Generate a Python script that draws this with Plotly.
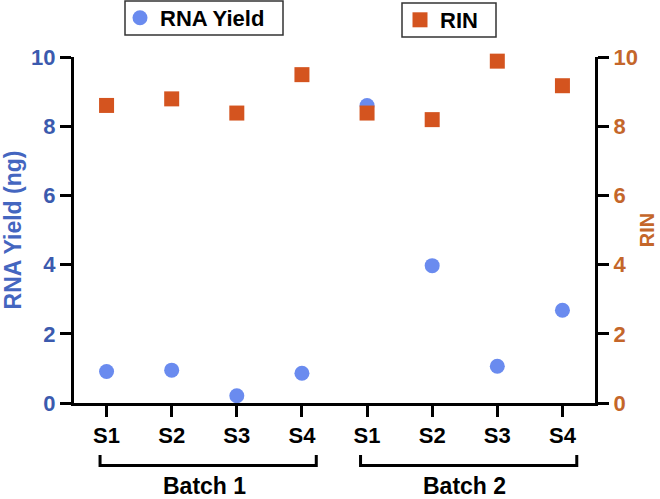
import plotly.graph_objects as go

samples = ["S1", "S2", "S3", "S4", "S1", "S2", "S3", "S4"]
batches = ["Batch 1", "Batch 2"]
rna_yield = [0.91, 0.95, 0.21, 0.86, 8.6, 3.97, 1.06, 2.68]
rin = [8.6, 8.79, 8.38, 9.49, 8.38, 8.19, 9.88, 9.17]

x_pos = list(range(len(samples)))
FONT = "Liberation Sans, Arial, sans-serif"
BLUE_TXT = "#3B5AAE"
BLUE_MK = "#6A8BEF"
ORANGE_TXT = "#C4662A"
ORANGE_MK = "#D4541F"

# plot-area geometry (pixels)
L, R, T, B = 74, 65, 57, 96
W, H = 660, 499
PW, PH = W - L - R, H - T - B


def px_x(px):
    return (px - L) / PW


def px_y(py):
    return (H - B - py) / PH


fig = go.Figure()
fig.add_trace(go.Scatter(
    x=x_pos, y=rna_yield, mode="markers", name="RNA Yield",
    marker=dict(symbol="circle", size=15, color=BLUE_MK, line=dict(width=0)),
    cliponaxis=False, legend="legend", yaxis="y"))
fig.add_trace(go.Scatter(
    x=x_pos, y=rin, mode="markers", name="RIN",
    marker=dict(symbol="square", size=15, color=ORANGE_MK, line=dict(width=0)),
    cliponaxis=False, legend="legend2", yaxis="y2"))

axis_common = dict(showline=True, linecolor="black", linewidth=3, ticks="outside",
                   ticklen=11, tickwidth=3, tickcolor="black", showgrid=False,
                   zeroline=False, automargin=False)

legend_common = dict(xanchor="left", yanchor="middle", borderwidth=0,
                     bgcolor="rgba(0,0,0,0)", itemsizing="trace",
                     font=dict(size=22, color="black", weight="bold"))

fig.update_layout(
    width=W, height=H,
    margin=dict(l=L, r=R, t=T, b=B, autoexpand=False),
    plot_bgcolor="white", paper_bgcolor="white",
    font=dict(family=FONT, size=22, color="black", weight="bold"),
    xaxis=dict(range=[-0.5, 7.5], tickvals=x_pos, ticktext=samples,
               tickfont=dict(size=22, color="black", weight="bold"), **axis_common),
    yaxis=dict(range=[0, 10], tickvals=[0, 2, 4, 6, 8, 10],
               tickfont=dict(size=22, color=BLUE_TXT, weight="bold"),
               title=dict(text="RNA Yield (ng)", standoff=9,
                          font=dict(size=23, color="#4466C0", weight="bold")),
               **axis_common),
    yaxis2=dict(range=[0, 10], tickvals=[0, 2, 4, 6, 8, 10], overlaying="y", side="right",
                tickfont=dict(size=22, color=ORANGE_TXT, weight="bold"),
                title=dict(text="RIN", standoff=4,
                           font=dict(size=20, color=ORANGE_TXT, weight="bold")),
                **axis_common),
    legend=dict(x=px_x(120), y=px_y(18), **legend_common),
    legend2=dict(x=px_x(400), y=px_y(20), **legend_common),
    showlegend=True,
)

# legend frames
for (x0, y0, x1, y1) in [(125, 1, 283, 35), (402, 3, 496, 37)]:
    fig.add_shape(type="rect", xref="paper", yref="paper",
                  x0=px_x(x0), x1=px_x(x1), y0=px_y(y1), y1=px_y(y0),
                  line=dict(color="#333333", width=1.5), fillcolor="rgba(0,0,0,0)")

# Batch brackets and labels
group_size = 4
for gi, label in enumerate(batches):
    start = gi * group_size
    end = start + group_size - 1
    x0 = start - 0.1
    x1 = end + 0.22
    ya, yb = px_y(455), px_y(465.5)
    path = f"M {x0},{ya} L {x0},{yb} L {x1},{yb} L {x1},{ya}"
    fig.add_shape(type="path", path=path, xref="x", yref="paper",
                  line=dict(color="black", width=3))
    fig.add_annotation(x=(start + end) / 2, y=px_y(486), xref="x", yref="paper",
                       text=label, showarrow=False, yanchor="middle",
                       font=dict(size=23, color="black", weight="bold"))

fig.write_html("out.html", config={"displayModeBar": False},
               post_script="document.body.style.margin='0';")
